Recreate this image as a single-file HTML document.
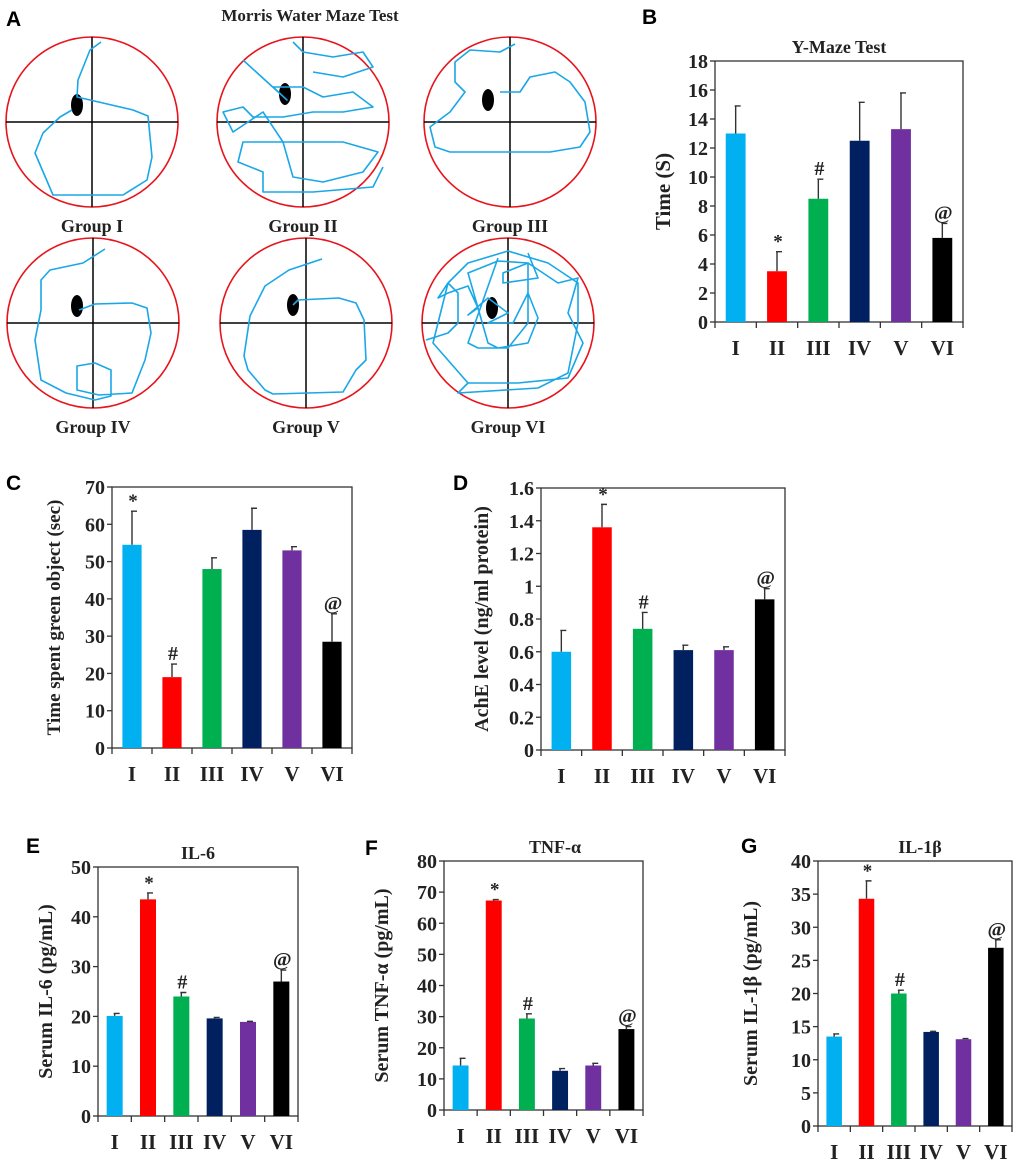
<!DOCTYPE html>
<html><head><meta charset="utf-8"><style>
body{margin:0;background:#fff}
svg{display:block}
.ser{font-family:"Liberation Serif",serif;font-weight:bold;fill:#222}
.let{font-family:"Liberation Sans",sans-serif;font-weight:bold;font-size:21px;fill:#000}
.trk{fill:none;stroke:#1aa7e8;stroke-width:1.6;stroke-linejoin:round}
</style></head><body>
<svg id="fig" width="1020" height="1161" viewBox="0 0 1020 1161">
<text class="let" x="6" y="26">A</text>
<text class="ser" x="310" y="21" font-size="17" text-anchor="middle">Morris Water Maze Test</text>
<g id="maze"></g>
</svg>
<script>
// ---- Chart data ----
const categories = ["I","II","III","IV","V","VI"];
const colors = ["#00B0F0","#FF0000","#00B050","#002060","#7030A0","#000000"];
const yMazeValues = [13, 3.5, 8.5, 12.5, 13.3, 5.8];
const yMazeErrors = [1.9, 1.35, 1.35, 2.65, 2.5, 1.0];
const yMazeMarks = ["", "*", "#", "", "", "@"];
const yMazeTicks = ["0","2","4","6","8","10","12","14","16","18"];
const greenValues = [54.5, 19, 48, 58.5, 53, 28.5];
const greenErrors = [9, 3.5, 3, 5.8, 1, 7.5];
const greenMarks = ["*", "#", "", "", "", "@"];
const greenTicks = ["0","10","20","30","40","50","60","70"];
const acheValues = [0.6, 1.36, 0.74, 0.61, 0.61, 0.92];
const acheErrors = [0.13, 0.14, 0.1, 0.03, 0.02, 0.065];
const acheMarks = ["", "*", "#", "", "", "@"];
const acheTicks = ["0","0.2","0.4","0.6","0.8","1","1.2","1.4","1.6"];
const il6Values = [20.1, 43.5, 24, 19.6, 18.9, 27];
const il6Errors = [0.5, 1.3, 0.8, 0.2, 0.1, 2.3];
const il6Marks = ["", "*", "#", "", "", "@"];
const il6Ticks = ["0","10","20","30","40","50"];
const tnfValues = [14.3, 67.3, 29.4, 12.6, 14.3, 26];
const tnfErrors = [2.3, 0.3, 1.5, 0.7, 0.7, 0.8];
const tnfMarks = ["", "*", "#", "", "", "@"];
const tnfTicks = ["0","10","20","30","40","50","60","70","80"];
const il1bValues = [13.5, 34.3, 20, 14.2, 13.1, 26.9];
const il1bErrors = [0.4, 2.7, 0.5, 0.1, 0.1, 1.2];
const il1bMarks = ["", "*", "#", "", "", "@"];
const il1bTicks = ["0","5","10","15","20","25","30","35","40"];

const NS = "http://www.w3.org/2000/svg";
const fig = document.getElementById("fig");
function mk(tag, attrs, parent){
  const e = document.createElementNS(NS, tag);
  for (const k in attrs) e.setAttribute(k, attrs[k]);
  (parent||fig).appendChild(e);
  return e;
}

function chart(o, values, errors, marks, ticks){
  const g = mk("g", {});
  
  
  const yMax = parseFloat(ticks[ticks.length-1]);
  const ys = v => o.b - (v / yMax) * (o.b - o.t);
  const band = (o.r - o.l) / categories.length;
  const xs = i => o.l + band * (i + 0.5);
  const fr = mk("rect", {x:o.l, y:o.t, width:o.r-o.l, height:o.b-o.t, fill:"none", stroke:"#333", "stroke-width":1.3}, g);
  
  
  ticks.forEach(t => {
    const y = ys(parseFloat(t));
    const tk = mk("line", {x1:o.l-5, x2:o.l, y1:y, y2:y, stroke:"#333", "stroke-width":1.3}, g);
    
    
    const tl = mk("text", {x:o.l-7, y:y+7, "font-size":o.fs||20, "text-anchor":"end", class:"ser"}, g);
    tl.textContent = t;
    
    
  });
  for (let i = 0; i <= categories.length; i++){
    const x = o.l + band * i;
    const xt = mk("line", {x1:x, x2:x, y1:o.b, y2:o.b+6, stroke:"#333", "stroke-width":1.3}, g);
    
    
  }
  categories.forEach((c, i) => {
    const v = values[i], e = errors[i];
    const bw = band * 0.48;
    const x = xs(i);
    const bar = mk("rect", {x:x-bw/2, y:ys(v), width:bw, height:o.b-ys(v), fill:colors[i]}, g);
    
    
    const eb = mk("path", {d:`M${x} ${ys(v)} V${ys(v+e)} M${x-1} ${ys(v+e)} H${x+5}`, stroke:"#333", "stroke-width":1.4, fill:"none"}, g);
    
    
    if (marks[i]){
      const m = mk("text", {x:x+1, y:ys(v+e)-4, "font-size":marks[i]=="*"?19:20, "text-anchor":"middle", class:"ser"}, g);
      m.setAttribute('font-weight', 'normal');
      m.textContent = marks[i];
      
      
    }
    const xl = mk("text", {x:x, y:o.b+33, "font-size":21, "text-anchor":"middle", class:"ser"}, g);
    xl.textContent = c;
    
    
  });
  const yt = mk("text", {x:0, y:0, "font-size":o.yfs||19, "text-anchor":"middle", class:"ser", transform:`translate(${o.yx},${(o.t+o.b)/2}) rotate(-90)`}, g);
  yt.textContent = o.ylabel;
  
  
  if (o.title){
    const tt = mk("text", {x:o.tx||(o.l+o.r)/2, y:o.t-8, "font-size":18, "text-anchor":"middle", class:"ser"}, g);
    tt.textContent = o.title;
    
    
  }
  const pl = mk("text", {x:o.lx, y:o.ly, class:"let"}, g);
  pl.textContent = o.letter;
  
  
}

chart({name:"y-maze-chart", l:715, r:963, t:61, b:322, yx:670, ylabel:"Time (S)", title:"Y-Maze Test", letter:"B", lx:642, ly:24, yfs:21}, yMazeValues, yMazeErrors, yMazeMarks, yMazeTicks);
chart({name:"green-object-chart", l:112, r:352, t:487, b:748, yx:60, ylabel:"Time spent green object (sec)", letter:"C", lx:6, ly:490}, greenValues, greenErrors, greenMarks, greenTicks);
chart({name:"ache-chart", l:541, r:785, t:488, b:750, yx:488, ylabel:"AchE level (ng/ml  protein)", letter:"D", lx:453, ly:490, yfs:20}, acheValues, acheErrors, acheMarks, acheTicks);
chart({name:"il6-chart", l:98, r:298, t:867, b:1116, yx:52, ylabel:"Serum IL-6 (pg/mL)", title:"IL-6", letter:"E", lx:26, ly:853, yfs:20}, il6Values, il6Errors, il6Marks, il6Ticks);
chart({name:"tnf-chart", l:444, r:643, t:861, b:1110, yx:388, ylabel:"Serum TNF-α (pg/mL)", title:"TNF-α", tx:555, letter:"F", lx:365, ly:855, yfs:20}, tnfValues, tnfErrors, tnfMarks, tnfTicks);
chart({name:"il1b-chart", l:818, r:1012, t:861, b:1126, yx:757, ylabel:"Serum IL-1β (pg/mL)", title:"IL-1β", tx:920, letter:"G", lx:741, ly:853, yfs:20}, il1bValues, il1bErrors, il1bMarks, il1bTicks);

// ---- Morris maze drawings ----
const mazeCenters = [[92,122],[303,122],[510,122],[93,323],[306,323],[508,323]];
const mazeNames = ["Group  I","Group  II","Group  III","Group  IV","Group  V","Group  VI"];
const platforms = [[-15,-17],[-18,-28],[-22,-22],[-16,-17],[-13,-18],[-16,-15]];
const tracks = [
 "M9 -80 L-2 -72 L-14 -42 L-15 -25 L-2 -22 L41 -12 L56 -6 L60 35 L55 58 L31 73 L-39 73 L-57 31 L-49 11 L-32 -5 L-20 -12",
 "M-60 -62 L-16 -22 L-30 -35 L0 -35 L20 -25 L50 -30 L70 -15 L40 -10 L10 -10 L-20 -5 L-50 -5 L-60 -15 L-80 -10 L-70 10 L-40 -10 L-20 20 L-10 55 L20 60 L60 50 L75 30 L40 20 L-60 20 L-65 40 L-40 50 L-40 70 L10 70 L70 65 L80 45 M-10 -80 L0 -70 L30 -65 L60 -70 L70 -55 L40 -45 L10 -50",
 "M5 -78 L-10 -70 L-40 -72 L-55 -60 L-55 -40 L-45 -30 L-60 -10 L-80 5 L-75 25 L-60 30 L40 30 L70 25 L80 10 L75 -20 L60 -40 L45 -50 L20 -45 L10 -30 L-10 -30",
 "M12 -74 L-10 -60 L-43 -53 L-52 -43 L-52 -13 L-58 17 L-52 57 L-27 70 L2 77 L18 73 L18 47 L2 40 L-16 43 L-16 67 L6 72 L39 70 L52 37 L58 10 L54 -15 L39 -20 L2 -19 L-14 -13",
 "M16 -64 L-17 -53 L-41 -37 L-56 -7 L-62 33 L-58 47 L-41 67 L-33 71 L37 69 L50 47 L60 37 L58 -3 L50 -20 L33 -25 L-8 -23 L-13 -18",
 "M-82 17 L-60 10 L-50 0 L-50 -30 L-60 -40 L-70 -25 L-60 -30 L-40 -37 L-30 -15 L-40 -8 L-20 -25 L0 -10 L-20 0 L5 0 L20 -30 L30 -5 L20 20 L-10 25 L-20 20 L-40 -50 L-10 -62 L20 -60 L50 -40 L70 -45 L60 -10 L75 20 L60 55 L10 60 L-40 60 L-50 70 L30 65 L60 50 L70 0 L70 -40 L40 -60 L0 -72 L-40 -60 L-60 -40 L-75 20 L-40 60 M-10 -65 L-40 20 L-30 25 L0 25 L20 0 L20 -60 L-5 -50 L-5 -40 L30 -45 L20 -70"
];
const maze = document.getElementById("maze");
mazeCenters.forEach((c, i) => {
  const g = mk("g", {transform:`translate(${c[0]},${c[1]})`}, maze);
  
  
  mk("ellipse", {cx:0, cy:0, rx:86, ry:85, fill:"none", stroke:"#e8141c", "stroke-width":1.6}, g);
  mk("line", {x1:-86, x2:86, y1:0, y2:0, stroke:"#000", "stroke-width":1.5}, g);
  mk("line", {x1:0, x2:0, y1:-85, y2:85, stroke:"#000", "stroke-width":1.5}, g);
  const p = mk("ellipse", {cx:platforms[i][0], cy:platforms[i][1], rx:6, ry:11, fill:"#000"}, g);
  
  
  const t = mk("path", {d:tracks[i], class:"trk"}, g);
  
  
  const lb = mk("text", {x:0, y:110, "font-size":18, "text-anchor":"middle", class:"ser"}, g);
  lb.textContent = mazeNames[i];
  
  
});
</script>
</body></html>
